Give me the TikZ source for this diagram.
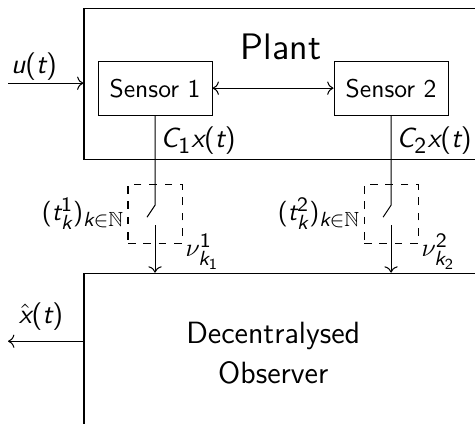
\documentclass[tikz,border=0pt]{standalone}
\usepackage{amssymb}
\renewcommand{\familydefault}{\sfdefault}
\usepackage[italic]{mathastext}
\usetikzlibrary{arrows.meta,calc,positioning}
\tikzset{
  frame/.style={draw, minimum width=5.6cm},
  sensor/.style={draw, minimum width=1.565cm, minimum height=0.741cm, inner sep=2pt},
  switchbox/.style={draw, dashed, minimum width=0.742cm, minimum height=0.81cm},
  signal/.style={->},
  siglabel/.style={inner sep=1pt},
  biglabel/.style={font=\fontsize{10.8}{13}\selectfont}
}

\begin{document}
\begin{tikzpicture}
    \useasboundingbox (0,0) rectangle (6.52,5.81);
    \clip (0,0) rectangle (6.52,5.81);
    % plant and its sensors
    \node[frame, minimum height=2.073cm] (plant) at (3.953,4.66) {};
    \node[font=\Large] (plantlabel) at (3.858,5.162) {Plant};
    \node[sensor] (s1) at (2.128,4.600) {Sensor 1};
    \node[sensor, right=1.661cm of s1] (s2) {Sensor 2};
    \draw[<->] (s1) -- (s2);
    % observer
    \node[frame, minimum height=2.26cm] (obs) at (3.953,0.93) {};
    \node[font=\large, align=center] (obslabel) at (3.75,0.96) {Decentralysed\\[1.5pt]Observer};
    % sampling switches
    \node[switchbox, below=0.934cm of s1] (sw1) {};
    \node[switchbox, below=0.934cm of s2] (sw2) {};
    \coordinate (in) at (0.11,4.668);
    \coordinate (out) at (0.11,1.126);
    \draw[signal] (in) -- (in -| plant.west) node[pos=0, anchor=south west, siglabel, biglabel] {$u(t)$};
    \draw[signal] (out -| obs.west) -- (out) node[anchor=south west, inner sep=4pt, biglabel] {$\hat{x}(t)$};
    \foreach \i/\s in {1/s1, 2/s2}{
      \draw (\s.south) -- ($(sw\i.center)+(0,0.117)$) -- ++(-0.11,-0.165);
      \draw[signal] ($(sw\i.center)+(0,-0.158)$) -- (sw\i |- obs.north);
      \node[above right, inner sep=2pt, biglabel] (c\i) at (\s |- plant.south) {$C_{\i}x(t)$};
      \node[left=0pt of sw\i, siglabel] (t\i) {$(t^{\i}_k)_{k\in\mathbb{N}}$};
      \node[anchor=west, siglabel, yshift=-3pt] (nu\i) at (sw\i.south east) {$\nu^{\i}_{k_{\i}}$};
    }
\end{tikzpicture}
\end{document}
